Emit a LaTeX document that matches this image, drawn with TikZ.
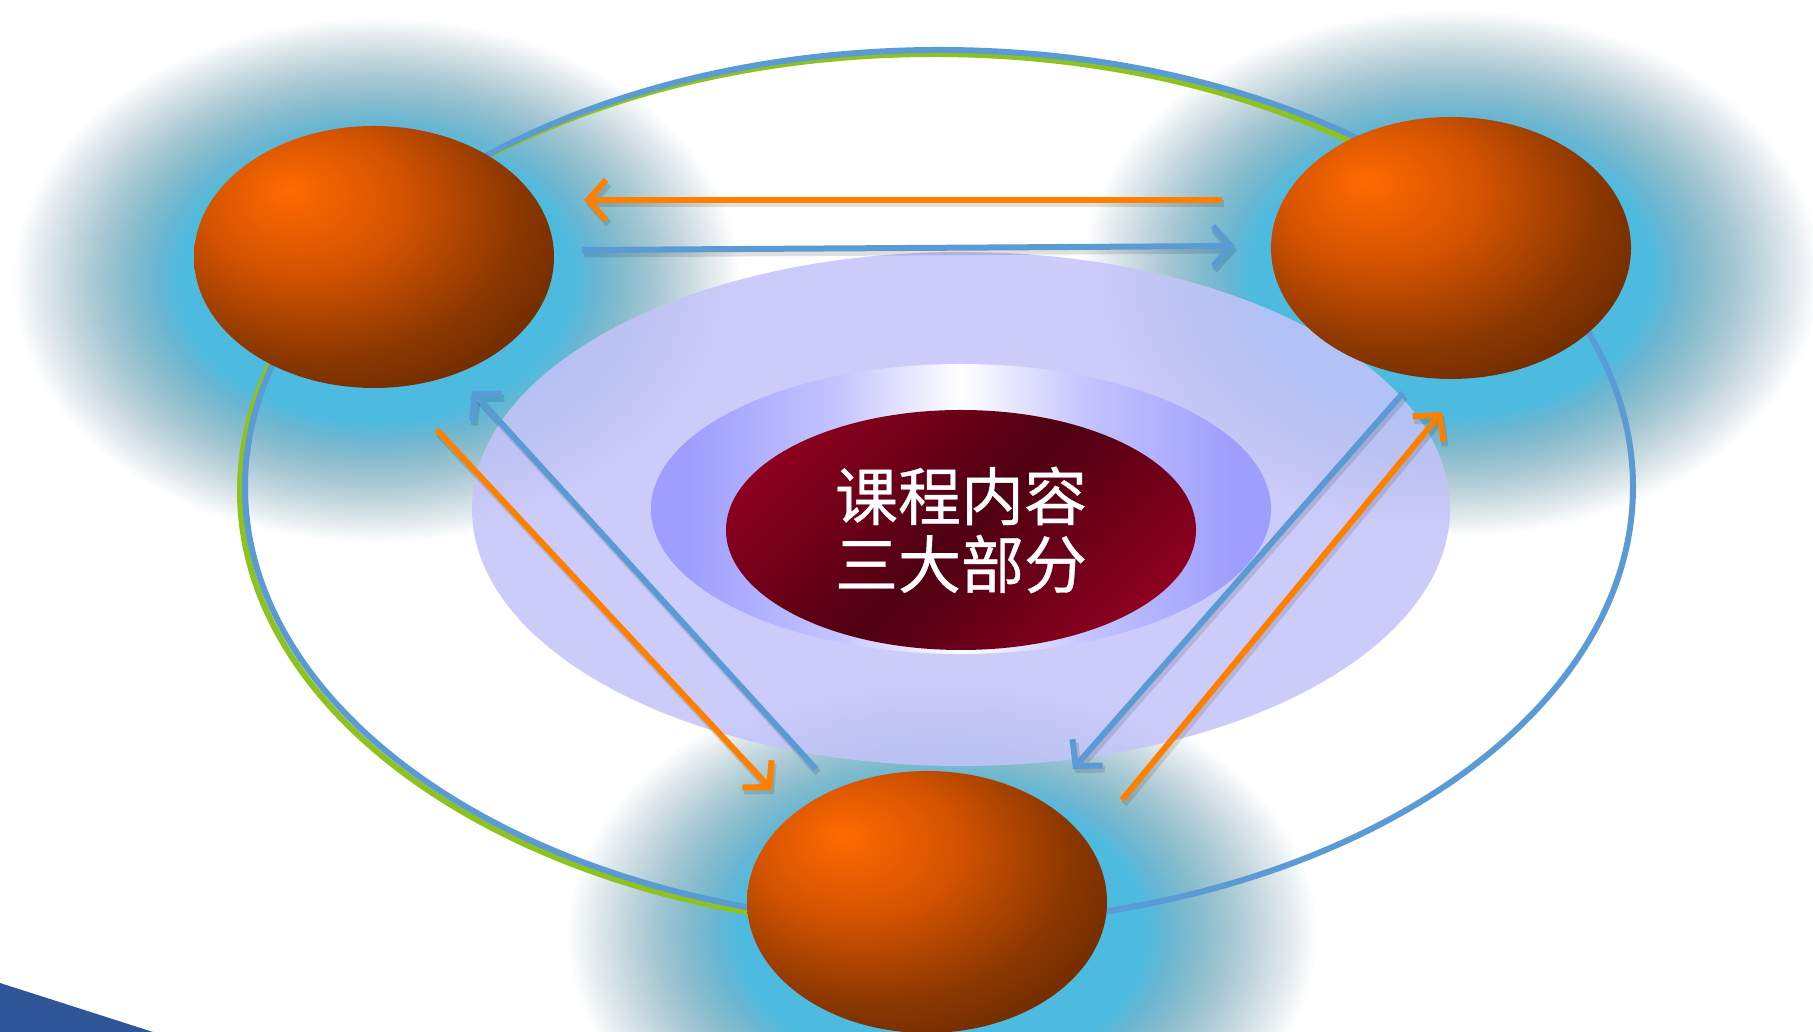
\documentclass[tikz,border=0pt]{standalone}
\usepackage{fontspec}
\newfontfamily\cjk[FakeBold=0.6]{Noto Sans CJK SC}
\usetikzlibrary{arrows.meta,shapes.geometric}
\definecolor{gA}{HTML}{4DBBE0}
\definecolor{gB}{HTML}{68B6D2}
\definecolor{gC}{HTML}{86BCCD}
\definecolor{gD}{HTML}{A3C6D2}
\definecolor{gE}{HTML}{C2D6DD}
\definecolor{gF}{HTML}{E0E9EC}
\definecolor{sphA}{HTML}{FF6A00}
\definecolor{sphB}{HTML}{D35300}
\definecolor{sphC}{HTML}{8A3700}
\definecolor{sphD}{HTML}{5C2400}
\definecolor{lav}{HTML}{C4C4FA}
\definecolor{ib}{HTML}{9E9EFF}
\definecolor{ib2}{HTML}{C4C4FF}
\definecolor{rA}{HTML}{92001F}
\definecolor{rB}{HTML}{4E0012}
\definecolor{lineblue}{HTML}{5B9BD5}
\definecolor{linegreen}{HTML}{8DC21F}
\definecolor{arrorange}{HTML}{FF8000}
\definecolor{cornerblue}{HTML}{2E5597}
\pgfdeclareradialshading{glow}{\pgfpoint{0bp}{0bp}}{color(0bp)=(gA); color(13.5bp)=(gA); color(15bp)=(gB); color(17bp)=(gC); color(19bp)=(gD); color(21bp)=(gE); color(23bp)=(gF); color(25bp)=(white); color(50bp)=(white)}
\pgfdeclareradialshading{sphere}{\pgfpoint{-12bp}{13bp}}{color(0bp)=(sphA); color(14bp)=(sphB); color(28bp)=(sphC); color(42bp)=(sphD); color(80bp)=(sphD)}
\pgfdeclarehorizontalshading{innerell}{100bp}{color(0bp)=(ib); color(28bp)=(ib); color(40bp)=(ib2); color(50bp)=(white); color(60bp)=(ib2); color(72bp)=(ib); color(100bp)=(ib)}
\pgfdeclarehorizontalshading{redband}{100bp}{color(0bp)=(rA); color(22bp)=(rA); color(50bp)=(rB); color(78bp)=(rA); color(100bp)=(rA)}
\tikzset{
  ball/.style={ellipse, inner sep=0pt, minimum width=360pt, minimum height=262pt, shade, shading=sphere},
  arrshadow/.style={preaction={draw=black, draw opacity=0.12, line width=7pt, transform canvas={shift={(2pt,-4pt)}}}},
  oarrow/.style={draw=arrorange, line width=6pt, arrshadow, -{Straight Barb[length=18pt,width=40pt]}},
  barrow/.style={draw=lineblue, line width=6pt, arrshadow, -{Straight Barb[length=18pt,width=40pt]}}
}
\begin{document}
\begin{tikzpicture}[x=1pt,y=1pt]
\useasboundingbox (0,0) rectangle (1813,1032);
\fill[white] (0,0) rectangle (1813,1032);
% glows
\shade[shading=glow] (376,752) ellipse (364 and 263);
\shade[shading=glow] (1451,759) ellipse (370 and 264);
\shade[shading=glow] (942,98) ellipse (376 and 263);
% outline ellipse
\begin{scope}
\clip (0,0) -- (930,0) -- (930,545) -- (1350,545) -- (1350,1032) -- (0,1032) -- cycle;
\draw[linegreen, line width=6pt] (934,541) ellipse (694 and 437);
\end{scope}
\draw[lineblue, line width=6pt] (939,545) ellipse (694 and 437);
% central ellipses
\fill[lav, opacity=0.85] (961,523) ellipse (489 and 257);
\shade[shading=innerell] (961,523) ellipse (310 and 145);
\node[ellipse, inner sep=0pt, minimum width=470pt, minimum height=240pt, shade, shading=redband, shading angle=-45] (core) at (961,502) {};
\node[text=white, font=\cjk\fontsize{63}{68}\selectfont, align=center] (title) at (961,502) {课程内容\\三大部分};
% spheres
\node[ball] (tl) at (374,775) {};
\node[ball] (tr) at (1451,784) {};
\node[ball] (bt) at (927,130) {};
% arrow end points
\coordinate (o1s) at (1222,832); \coordinate (o1e) at (584,832);
\coordinate (b1s) at (582,782);  \coordinate (b1e) at (1235,786);
\coordinate (o2s) at (437,602);  \coordinate (o2e) at (772,242);
\coordinate (b2s) at (816,263);  \coordinate (b2e) at (472,641);
\coordinate (b3s) at (1403,639); \coordinate (b3e) at (1073,263);
\coordinate (o3s) at (1122,232); \coordinate (o3e) at (1442,620);
\draw[oarrow] (o1s) -- (o1e);
\draw[barrow] (b1s) -- (b1e);
\draw[oarrow] (o2s) -- (o2e);
\draw[barrow] (b2s) -- (b2e);
\draw[barrow] (b3s) -- (b3e);
\draw[oarrow] (o3s) -- (o3e);
% corner
\fill[cornerblue] (0,49) -- (153,0) -- (0,0) -- cycle;
\end{tikzpicture}
\end{document}
